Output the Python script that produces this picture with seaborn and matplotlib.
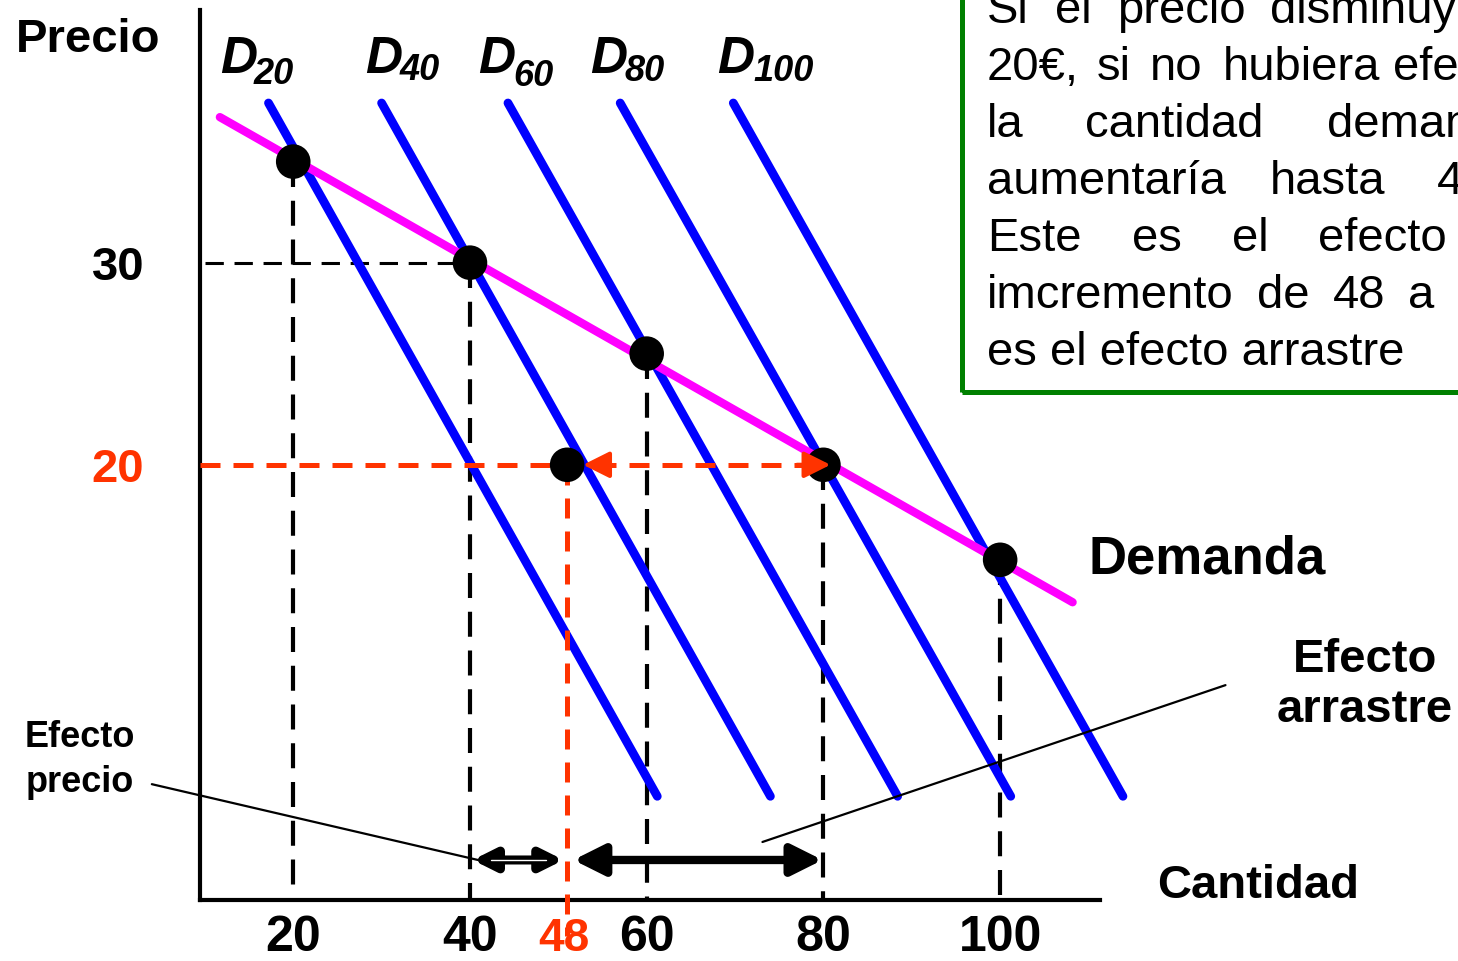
import matplotlib
matplotlib.use("Agg")
import matplotlib.pyplot as plt
import matplotlib.patches as patches
import seaborn as sns
import pandas as pd

# quantities / prices
curve_names = ["20", "40", "60", "80", "100"]
curve_q_top = [17.2, 30.0, 44.3, 57.0, 69.8]
curve_q_bottom = [61.2, 74.0, 88.4, 101.2, 113.9]
curve_p_top = 37.9
curve_p_bottom = 3.6

point_q = [20, 40, 60, 80, 100]
point_p = [35, 30, 25.5, 20, 15.3]

demand_q = [11.7, 108.2]
demand_p = [37.2, 13.2]

q_new = 51          # where the "48" point sits on the drawing
p_new = 20
p_old = 30
p_arrow = 0.45

x_ticks = [20, 40, 60, 80, 100]
x_tick_labels = ["20", "40", "60", "80", "100"]

box_lines = [
    [("Si", 987), ("el", 1055), ("precio", 1117), ("disminuye", 1270)],
    [("20€,", 987), ("si", 1097), ("no", 1150), ("hubiera", 1223), ("efecto", 1393)],
    [("la", 987), ("cantidad", 1085), ("demandada", 1327)],
    [("aumentaría", 987), ("hasta", 1270), ("48.", 1437)],
    [("Este", 987), ("es", 1132), ("el", 1232), ("efecto", 1318)],
    [("imcremento", 987), ("de", 1257), ("48", 1333), ("a", 1408)],
    [("es el efecto arrastre", 987)],
]

W, H = 1458, 961
RED = "#ff3300"
BLUE = "#0000ff"
MAGENTA = "#ff00ff"

sns.set_theme(style="white")
plt.rcParams["font.family"] = ["Liberation Sans", "DejaVu Sans"]
plt.rcParams["text.color"] = "black"
plt.rcParams["xtick.color"] = "black"
plt.rcParams["ytick.color"] = "black"

fig = plt.figure(figsize=(W / 100, H / 100), dpi=100)
ax = fig.add_axes([200 / W, 61 / H, 900 / W, 890 / H])
ax.set_xlim(9.45, 111.3)
ax.set_ylim(-1.53, 42.5)
p_axis = -1.53

for s in ["top", "right"]:
    ax.spines[s].set_visible(False)
for s in ["left", "bottom"]:
    ax.spines[s].set_color("black")
    ax.spines[s].set_linewidth(3)


def px(x, y):
    return x / W, 1 - y / H


# dashed guides
for q, p in zip(point_q, point_p):
    ax.plot([q, q], [p, p_axis], color="black", lw=3, dashes=(6, 3.3), zorder=2)
ax.plot([10.0, 40], [p_old, p_old], color="black", lw=2.2, dashes=(6, 3.5), zorder=2)

# blue demand curves
rows = []
for n, qt, qb in zip(curve_names, curve_q_top, curve_q_bottom):
    rows.append({"curva": n, "q": qt, "p": curve_p_top})
    rows.append({"curva": n, "q": qb, "p": curve_p_bottom})
df = pd.DataFrame(rows)
sns.lineplot(data=df, x="q", y="p", units="curva", estimator=None, sort=False,
             color=BLUE, lw=6.3, ax=ax, zorder=3, legend=False)

# red dashed guides
ax.plot([9.45, 80], [p_new, p_new], color=RED, lw=3.6, dashes=(4, 2.6), zorder=4)
ax.plot([q_new, q_new], [p_new, -3.3], color=RED, lw=3.6, dashes=(4, 2.6), zorder=4)

# magenta market demand
sns.lineplot(x=demand_q, y=demand_p, color=MAGENTA, lw=6, ax=ax, zorder=5)

# dots
sns.scatterplot(x=point_q + [q_new], y=point_p + [p_new], color="black", s=620,
                edgecolor="none", ax=ax, zorder=6)

# red arrowheads
ax.annotate("", xy=(52.8, p_new), xytext=(56, p_new),
            arrowprops=dict(arrowstyle="-|>", color=RED, lw=3, mutation_scale=40,
                            shrinkA=0, shrinkB=0), zorder=7)
ax.annotate("", xy=(80.8, p_new), xytext=(77, p_new),
            arrowprops=dict(arrowstyle="-|>", color=RED, lw=3, mutation_scale=40,
                            shrinkA=0, shrinkB=0), zorder=7)

# effect arrows
ax.annotate("", xy=(40.3, p_arrow), xytext=(50.6, p_arrow),
            arrowprops=dict(arrowstyle="<|-|>", color="black", lw=6.5, mutation_scale=32,
                            shrinkA=0, shrinkB=0), zorder=7)
ax.plot([42.4, 48.6], [p_arrow, p_arrow], color="white", lw=1.0, zorder=8)
ax.annotate("", xy=(51.7, p_arrow), xytext=(79.9, p_arrow),
            arrowprops=dict(arrowstyle="<|-|>", color="black", lw=6, mutation_scale=46,
                            shrinkA=0, shrinkB=0), zorder=7)

# pointer lines
ax.plot([4.0, 40.9], [4.2, 0.45], color="black", lw=1.6, zorder=7)
ax.plot([73.1, 125.5], [1.34, 9.1], color="black", lw=1.6, zorder=7)

for a in ax.lines + ax.collections + ax.texts:
    a.set_clip_on(False)

# ticks
ax.set_xticks(x_ticks)
ax.set_xticklabels(x_tick_labels, fontsize=36, fontweight="bold")
ax.set_yticks([20, 30])
ax.set_yticklabels(["20", "30"], fontsize=34, fontweight="bold")
ax.get_yticklabels()[0].set_color(RED)
ax.tick_params(axis="x", length=0, pad=11)
ax.tick_params(axis="y", length=0, pad=40)
ax.set_xlabel("")
ax.set_ylabel("")

fig.text(*px(564, 939), "48", color=RED, fontsize=33, fontweight="bold",
         ha="center", va="center")

# labels
fig.text(*px(88, 40), "Precio", fontsize=34, fontweight="bold", ha="center", va="center")
fig.text(*px(1088, 560), "Demanda", fontsize=38, fontweight="bold", ha="left", va="center")
fig.text(*px(1258, 886), "Cantidad", fontsize=34, fontweight="bold", ha="center", va="center")
fig.text(*px(1365, 685), "Efecto\narrastre", fontsize=34, fontweight="bold",
         ha="center", va="center", linespacing=1.2)
fig.text(*px(80, 760), "Efecto\nprecio", fontsize=26, fontweight="bold",
         ha="center", va="center", linespacing=1.35)

d_pos = [(220, 254), (365, 400), (478, 513), (590, 625), (717, 753)]
d_sub_y = [84, 80, 86, 81, 81]
for n, (xd, xs), ys in zip(curve_names, d_pos, d_sub_y):
    fig.text(*px(xd, 73), "D", fontsize=37, fontweight="bold", fontstyle="italic",
             ha="left", va="baseline")
    fig.text(*px(xs, ys), n, fontsize=26, fontweight="bold", fontstyle="italic",
             ha="left", va="baseline")

# text box
fig.patches.append(patches.Rectangle(px(962, 392), 600 / W, 460 / H, transform=fig.transFigure,
                                     fill=False, edgecolor="#008000", lw=3.6))
for i, line in enumerate(box_lines):
    for word, xw in line:
        fig.text(*px(xw, 23 + 57 * i), word, fontsize=34, ha="left", va="baseline")

fig.savefig("out.png", dpi=100)
